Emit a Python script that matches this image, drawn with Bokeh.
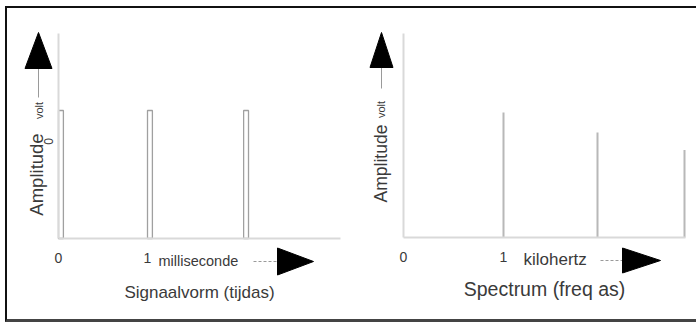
import math
from bokeh.plotting import figure
from bokeh.layouts import row
from bokeh.models import Range1d, FixedTicker, Label, LinearAxis
from bokeh.embed import file_html
from bokeh.resources import INLINE

# ---------------- data ----------------
pulse_start_ms = [0.0, 1.0, 2.08]
pulse_width_ms = [0.055, 0.055, 0.055]
pulse_amplitude = [1.0, 1.0, 1.0]

freq_khz = [1.0, 1.94, 2.81]
spec_amplitude = [1.0, 0.84, 0.70]

time_ticks = [0, 1]
time_tick_labels = {0: "0", 1: "1"}
freq_ticks = [0, 1]
freq_tick_labels = {0: "0", 1: "1"}

FONT = "Liberation Sans"
TXT = "#3a3a3a"
AXC = "#d9d9d9"
STEM = "#9a9a9a"


class Conv:
    """reference-pixel -> data helper, used only to place decorations"""
    def __init__(self, x0, xs, y0, ys):
        self.x0, self.xs, self.y0, self.ys = x0, xs, y0, ys

    def x(self, px):
        return (px - self.x0) / self.xs

    def y(self, py):
        return (self.y0 - py) / self.ys


def panel(c, left_px, right_px, frame_right_px, top_px, ticks, labels, title,
          title_size, title_standoff):
    p = figure(width=right_px - left_px, height=311,
               x_range=Range1d(c.x(left_px), c.x(right_px)),
               y_range=Range1d(c.y(319), c.y(8)),
               x_axis_location=None, y_axis_location=None,
               output_backend="svg", toolbar_location=None,
               min_border=0)
    p.outline_line_color = None
    p.grid.grid_line_color = None
    p.background_fill_color = "white"
    p.border_fill_color = "white"

    xa = LinearAxis(fixed_location=0, bounds=(0, c.x(frame_right_px)))
    xa.ticker = FixedTicker(ticks=ticks)
    xa.major_label_overrides = labels
    xa.axis_line_color = AXC
    xa.axis_line_width = 2
    xa.major_tick_line_color = None
    xa.minor_tick_line_color = None
    xa.major_tick_in = 0
    xa.major_tick_out = 0
    xa.major_label_standoff = 14
    xa.major_label_text_font = FONT
    xa.major_label_text_font_size = "14px"
    xa.major_label_text_color = TXT
    xa.axis_label = title
    xa.axis_label_text_font = FONT
    xa.axis_label_text_font_size = title_size
    xa.axis_label_text_font_style = "normal"
    xa.axis_label_text_color = TXT
    xa.axis_label_standoff = title_standoff
    p.add_layout(xa, "below")

    ya = LinearAxis(fixed_location=0, bounds=(0, c.y(top_px)))
    ya.ticker = FixedTicker(ticks=[])
    ya.axis_line_color = AXC
    ya.axis_line_width = 2
    ya.major_tick_line_color = None
    ya.minor_tick_line_color = None
    ya.major_label_text_color = None
    p.add_layout(ya, "left")
    return p


def label(p, c, text, px, py, size, angle=0.0, align="center"):
    p.add_layout(Label(x=c.x(px), y=c.y(py), text=text, angle=angle,
                       text_font=FONT, text_font_size=size, text_color=TXT,
                       text_align=align, text_baseline="middle"))


def up_arrow(p, c, x, stem_px, base_px, tip_px, half):
    p.line(x=[c.x(x), c.x(x)], y=[c.y(stem_px), c.y(base_px)],
           line_color=STEM, line_width=1)
    p.patch(x=[c.x(x - half), c.x(x + half), c.x(x)],
            y=[c.y(base_px), c.y(base_px), c.y(tip_px)],
            fill_color="black", line_color="black", line_width=1)


def right_arrow(p, c, y, stem_px, base_px, tip_px, half):
    p.line(x=[c.x(stem_px), c.x(base_px)], y=[c.y(y), c.y(y)],
           line_color=STEM, line_width=1, line_dash="3 2")
    p.patch(x=[c.x(base_px), c.x(base_px), c.x(tip_px)],
            y=[c.y(y - half), c.y(y + half), c.y(y)],
            fill_color="black", line_color="black", line_width=1)


# ---------------- left: time signal ----------------
cl = Conv(58, 89.0, 238, 128.0)
p1 = panel(cl, 7, 350, 340, 33, time_ticks, time_tick_labels,
           "Signaalvorm (tijdas)", "17px", 17)

pulse_end = [s + w for s, w in zip(pulse_start_ms, pulse_width_ms)]
p1.quad(left=pulse_start_ms, right=pulse_end, bottom=0, top=pulse_amplitude,
        fill_color="white", line_color="#a0a0a0", line_width=1.3)

up_arrow(p1, cl, 38, 97, 68, 32, 13.5)
right_arrow(p1, cl, 261, 253, 277, 313, 13.5)
label(p1, cl, "volt", 38, 110, "11px", angle=math.pi / 2)
label(p1, cl, "0", 48, 141, "12px", angle=math.pi / 2)
label(p1, cl, "Amplitude", 36, 174, "18.5px", angle=math.pi / 2)
label(p1, cl, "milliseconde", 158, 260, "14.5px", align="left")

# ---------------- right: spectrum ----------------
cr = Conv(403, 100.0, 237, 125.0)
p2 = panel(cr, 350, 696, 685, 33, freq_ticks, freq_tick_labels,
           "Spectrum (freq as)", "19.5px", 13)

p2.segment(x0=freq_khz, y0=[0] * len(freq_khz), x1=freq_khz, y1=spec_amplitude,
           line_color="#b8b8b8", line_width=2)

up_arrow(p2, cr, 381, 88, 67, 32, 11.5)
right_arrow(p2, cr, 260, 600, 622, 660, 12.5)
label(p2, cr, "volt", 380, 109, "11px", angle=math.pi / 2)
label(p2, cr, "Amplitude", 380, 163, "17.5px", angle=math.pi / 2)
label(p2, cr, "kilohertz", 523, 259, "17px", align="left")

layout = row(p1, p2, styles={"margin-top": "6px", "margin-left": "5px",
                             "border-top": "2px solid #111",
                             "border-left": "2px solid #111",
                             "border-bottom": "3px solid #444"})

open("out.html", "w").write(file_html(layout, INLINE))
